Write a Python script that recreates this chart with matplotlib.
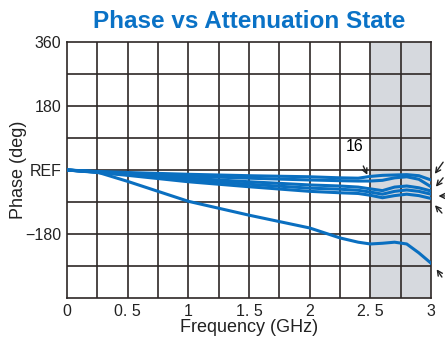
import numpy as np
import matplotlib.pyplot as plt

freq = [0, 0.25, 0.5, 1.0, 1.5, 2.0, 2.25, 2.4, 2.5, 2.6, 2.7, 2.8, 2.9, 3.0]
s1 = [0, -4, -7, -12, -16, -19, -22, -23, -18, -15, -14, -13, -16, -28]
s2 = [0, -5, -9, -17, -23, -28, -30, -31, -31, -29, -22, -19, -26, -47]
s3 = [0, -5, -11, -23, -33, -42, -45, -48, -53, -58, -48, -45, -50, -59]
s4 = [0, -6, -13, -28, -40, -51, -54, -57, -62, -68, -60, -56, -60, -68]
s5 = [0, -7, -15, -33, -47, -60, -64, -66, -71, -78, -72, -68, -72, -80]
s6 = [0, -6, -32, -88, -127, -163, -191, -203, -208, -206, -203, -208, -233, -262]

xticks = [0, 0.5, 1, 1.5, 2, 2.5, 3]
xlabels = ['0', '0. 5', '1', '1. 5', '2', '2. 5', '3']
yticks = [360, 180, 0, -180]
ylabels = ['360', '180', 'REF', '\u2212180']

blue = '#0a6fc0'
gridc = '#2e2826'

fig = plt.figure(figsize=(4.45, 3.38), dpi=100)
ax = fig.add_axes([0.1506, 0.1183, 0.8179, 0.7574])

ax.axvspan(2.5, 3, color='#d6d9de', zorder=0)
for x in np.arange(0.25, 3, 0.25):
    ax.axvline(x, color=gridc, lw=1.2, zorder=1)
for y in np.arange(-270, 360, 90):
    ax.axhline(y, color=gridc, lw=1.2, zorder=1)
for s in [s1, s2, s3, s4, s5, s6]:
    ax.plot(freq, s, color=blue, lw=2.2, zorder=3)

ax.set_xlim(0, 3)
ax.set_ylim(-360, 360)
ax.set_xticks(xticks)
ax.set_xticklabels(xlabels, family='Liberation Sans', fontsize=11.5, color='#222')
ax.set_yticks(yticks)
ax.set_yticklabels(ylabels, family='Liberation Sans', fontsize=11.5, color='#222')
ax.tick_params(which='both', length=0, pad=4)
for sp in ax.spines.values():
    sp.set_color(gridc)
    sp.set_linewidth(1.2)

ax.set_xlabel('Frequency (GHz)', family='Liberation Sans', fontsize=13, color='#222', labelpad=0)
ax.set_ylabel('Phase (deg)', family='Liberation Sans', fontsize=13, color='#222', labelpad=-1)
fig.text(0.56, 0.935, 'Phase vs Attenuation State', ha='center', va='center',
         family='Liberation Sans', weight='bold', fontsize=17.5, color='#0a72c6')

ap = dict(arrowstyle='->', color='#222', lw=1, mutation_scale=9)
ax.annotate('16', xy=(2.48, -17), xytext=(2.37, 65), fontsize=11.5,
            family='Liberation Sans', ha='center', va='center',
            arrowprops=dict(ap, shrinkA=7, shrinkB=1), annotation_clip=False)
arrows = [((3.10, 22), (3.025, -14)), ((3.10, -22), (3.033, -50)),
          ((3.13, -73), (3.05, -73)), ((3.09, -121), (3.025, -96)),
          ((3.09, -301), (3.04, -276))]
for start, end in arrows:
    ax.annotate('', xy=end, xytext=start, annotation_clip=False,
                arrowprops=dict(ap, shrinkA=0, shrinkB=1))

fig.savefig('out.png', dpi=100)
